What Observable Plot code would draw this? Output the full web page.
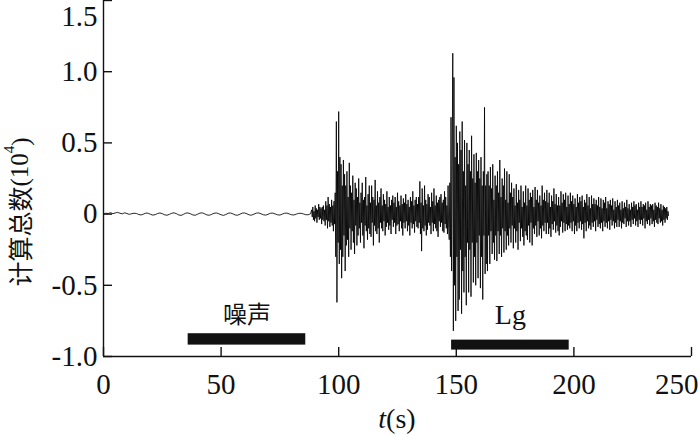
<!DOCTYPE html>
<html><head><meta charset="utf-8">
<script src="https://cdn.jsdelivr.net/npm/d3@7"></script>
<script src="https://cdn.jsdelivr.net/npm/@observablehq/plot@0.6"></script>
<style>html,body{margin:0;padding:0;background:#fff;} #chart svg{display:block;}</style>
</head><body><div id="chart"></div>
<script>
// ---- data ----
const quietStart = 0, quietStep = 1;   // seconds
const quietValues = [
  0.000,0.006,0.004,0.010,0.003,0.008,0.012,0.006,0.002,0.009,0.004,-0.002,0.003,
  0.006,0.004,-0.003,-0.006,0.000,0.007,0.006,-0.002,-0.007,-0.004,0.004,0.008,0.003,
  -0.005,-0.008,-0.002,0.006,0.009,0.003,-0.006,-0.009,-0.002,0.007,0.008,0.002,-0.006,
  -0.008,-0.001,0.007,0.009,0.002,-0.006,-0.008,-0.002,0.006,0.008,0.003,-0.005,-0.009,
  -0.003,0.006,0.008,0.002,-0.006,-0.008,-0.001,0.007,0.008,0.002,-0.006,-0.007,0.000,
  0.007,0.008,0.002,-0.005,-0.007,-0.001,0.006,0.007,0.001,-0.005,-0.007,0.000,0.006,
  0.007,0.001,-0.005,-0.006,0.000,0.005,0.006,0.001,-0.004,-0.005,0.002
];
const activeStart = 88.5, activeStep = 0.25; // seconds
const activeValues = [
  0.03,-0.02,0.05,-0.04,0.02,-0.05,0.06,-0.03,0.04,-0.06,0.03,-0.02,0.07,-0.04,0.05,-0.03,0.04,-0.07,0.05,-0.04,
  0.06,-0.05,0.03,-0.08,0.09,-0.04,0.06,-0.10,0.12,-0.05,0.07,-0.09,0.05,-0.06,0.10,-0.08,0.06,-0.12,0.09,-0.07,
  0.15,-0.30,0.65,-0.62,0.30,-0.20,0.72,-0.35,0.40,-0.25,0.35,-0.45,0.20,-0.30,0.38,-0.15,0.28,-0.40,0.20,-0.22,
  0.30,-0.18,0.12,-0.30,0.36,-0.10,0.20,-0.25,0.15,-0.12,0.27,-0.20,0.10,-0.28,0.22,-0.08,0.18,-0.22,0.12,-0.15,
  0.25,-0.10,0.08,-0.20,0.15,-0.06,0.22,-0.15,0.10,-0.24,0.12,-0.08,0.26,-0.12,0.06,-0.18,0.14,-0.10,0.20,-0.14,
  0.08,-0.16,0.20,-0.06,0.12,-0.22,0.10,-0.08,0.24,-0.12,0.06,-0.14,0.16,-0.10,0.08,-0.20,0.12,-0.06,0.18,-0.10,
  0.06,-0.12,0.14,-0.05,0.10,-0.15,0.07,-0.09,0.16,-0.06,0.05,-0.11,0.12,-0.08,0.06,-0.14,0.10,-0.04,0.13,-0.09,
  0.08,-0.06,0.12,-0.14,0.05,-0.08,0.15,-0.07,0.09,-0.12,0.06,-0.05,0.13,-0.10,0.07,-0.15,0.11,-0.06,0.08,-0.10,
  0.14,-0.05,0.07,-0.12,0.10,-0.08,0.05,-0.15,0.12,-0.06,0.09,-0.10,0.16,-0.07,0.06,-0.13,0.10,-0.05,0.12,-0.09,
  0.07,-0.10,0.12,-0.06,0.23,-0.14,0.08,-0.26,0.18,-0.10,0.06,-0.12,0.20,-0.08,0.10,-0.15,0.07,-0.11,0.14,-0.06,
  0.12,-0.08,0.05,-0.14,0.15,-0.06,0.09,-0.12,0.18,-0.07,0.06,-0.10,0.13,-0.12,0.08,-0.16,0.10,-0.05,0.12,-0.09,
  0.14,-0.06,0.08,-0.12,0.10,-0.13,0.16,-0.07,0.12,-0.10,0.06,-0.14,0.20,-0.10,-0.18,0.22,-0.30,0.68,-0.40,0.35,
  1.13,-0.82,0.96,-0.50,0.40,-0.75,0.62,-0.30,0.50,-0.68,0.35,-0.60,0.58,-0.25,0.45,-0.70,0.65,-0.40,0.30,-0.55,
  0.52,-0.30,0.20,-0.64,0.50,-0.20,0.35,-0.55,0.45,-0.25,0.30,-0.58,0.55,-0.20,0.25,-0.48,0.42,-0.30,0.22,-0.50,
  0.43,-0.20,0.30,-0.45,0.38,-0.15,0.25,-0.52,0.40,-0.30,0.20,-0.60,0.30,-0.15,0.75,-0.42,0.20,-0.35,0.28,-0.40,
  0.30,-0.15,0.20,-0.35,0.33,-0.12,0.18,-0.28,0.35,-0.20,0.10,-0.32,0.27,-0.15,0.20,-0.33,0.30,-0.12,0.15,-0.28,
  0.38,-0.15,0.12,-0.30,0.25,-0.10,0.20,-0.27,0.32,-0.12,0.10,-0.25,0.30,-0.15,0.08,-0.22,0.28,-0.10,0.15,-0.20,
  0.22,-0.08,0.12,-0.24,0.18,-0.10,0.06,-0.20,0.21,-0.12,0.08,-0.25,0.17,-0.06,0.10,-0.19,0.20,-0.10,0.05,-0.16,
  0.16,-0.22,0.08,-0.12,0.20,-0.15,0.06,-0.18,0.18,-0.08,0.10,-0.20,0.15,-0.06,0.12,-0.22,0.17,-0.10,0.05,-0.14,
  0.19,-0.08,0.10,-0.16,0.17,-0.05,0.08,-0.15,0.13,-0.10,0.06,-0.17,0.20,-0.08,0.10,-0.12,0.15,-0.06,0.09,-0.14,
  0.17,-0.06,0.08,-0.14,0.15,-0.10,0.05,-0.16,0.13,-0.07,0.09,-0.11,0.18,-0.05,0.07,-0.13,0.14,-0.08,0.06,-0.12,
  0.12,-0.15,0.06,-0.09,0.16,-0.05,0.08,-0.13,0.14,-0.06,0.10,-0.12,0.15,-0.07,0.05,-0.11,0.13,-0.08,0.07,-0.10,
  0.15,-0.06,0.09,-0.12,0.13,-0.05,0.07,-0.14,0.11,-0.08,0.05,-0.12,0.14,-0.06,0.08,-0.10,0.12,-0.05,0.09,-0.11,
  0.13,-0.07,0.05,-0.17,0.10,-0.06,0.08,-0.12,0.14,-0.05,0.06,-0.10,0.12,-0.08,0.04,-0.11,0.13,-0.06,0.07,-0.09,
  0.11,-0.05,0.07,-0.12,0.10,-0.04,0.06,-0.09,0.12,-0.07,0.05,-0.10,0.11,-0.06,0.04,-0.12,0.10,-0.05,0.08,-0.09,
  0.12,-0.06,0.04,-0.10,0.09,-0.05,0.07,-0.11,0.10,-0.04,0.06,-0.08,0.11,-0.05,0.03,-0.10,0.09,-0.06,0.05,-0.09,
  0.10,-0.04,0.06,-0.09,0.08,-0.05,0.03,-0.10,0.09,-0.06,0.04,-0.07,0.08,-0.03,0.05,-0.09,0.10,-0.05,0.04,-0.08,
  0.07,-0.05,0.03,-0.09,0.08,-0.04,0.05,-0.07,0.09,-0.03,0.06,-0.08,0.07,-0.05,0.03,-0.09,0.08,-0.04,0.05,-0.07,
  0.09,-0.04,0.05,-0.08,0.07,-0.03,0.06,-0.10,0.08,-0.05,0.03,-0.07,0.09,-0.04,0.05,-0.08,0.07,-0.03,0.06,-0.07,
  0.07,-0.05,0.03,-0.09,0.08,-0.04,0.06,-0.06,0.05,-0.07,0.08,-0.03,0.04,-0.06,0.07,-0.05,0.03,-0.08,0.06,-0.04,
  0.05,-0.06,0.04,-0.03,0.05,-0.04,0.02,-0.01
];
const xTicks = [0, 50, 100, 150, 200, 250];
const yTicks = [-1, -0.5, 0, 0.5, 1, 1.5];
const windowLabels = ["噪声", "Lg"];
const windowStart = [36, 148];
const windowEnd = [86, 198];

// ---- build tables ----
const trace = [
  ...quietValues.map((v, i) => ({t: quietStart + i * quietStep, v})),
  ...activeValues.map((v, i) => ({t: activeStart + i * activeStep, v}))
];
const windows = windowLabels.map((label, i) => ({label, start: windowStart[i], end: windowEnd[i], mid: (windowStart[i] + windowEnd[i]) / 2}));

const serif = "'Liberation Serif', 'Times New Roman', serif";
const fmt = d => d === 0 ? "0" : d.toFixed(1);
const lastX = xTicks[xTicks.length - 1];
const topY = yTicks[yTicks.length - 1];

const chart = Plot.plot({
  width: 700,
  height: 436,
  marginLeft: 103,
  marginRight: 9,
  marginTop: 0,
  marginBottom: 80,
  style: {fontFamily: serif, fontSize: "29px", color: "#111", background: "#fff"},
  x: {domain: [0, 250]},
  y: {domain: [-1, 1.5]},
  marks: [
    Plot.line(trace, {x: "t", y: "v", stroke: "#000", strokeWidth: 0.85}),
    Plot.rect([windows[0]], {x1: "start", x2: "end", y1: -0.92, y2: -0.84, fill: "#111"}),
    Plot.rect([windows[1]], {x1: "start", x2: "end", y1: -0.955, y2: -0.885, fill: "#111"}),
    Plot.text([windows[0]], {x: "mid", y: -0.71, text: "label", fontSize: 24, fontFamily: "'Noto Sans CJK SC', sans-serif", fill: "#111"}),
    Plot.text([windows[1]], {x: "mid", y: -0.71, text: "label", fontSize: 28, fontFamily: serif, fill: "#111"}),
    Plot.ruleX([0], {stroke: "#111", strokeWidth: 1.4}),
    Plot.ruleY([-1], {stroke: "#111", strokeWidth: 1.4}),
    Plot.axisY(yTicks, {anchor: "left", tickSize: -9, tickPadding: 15, strokeWidth: 1.4, fontSize: 29, tickFormat: d => d === topY ? "" : fmt(d), label: null}),
    Plot.axisY([topY], {anchor: "left", tickSize: 0, tickPadding: 6, dy: 16, fontSize: 29, tickFormat: fmt, label: null}),
    Plot.axisX(xTicks, {anchor: "bottom", tickSize: -9, tickPadding: 26, strokeWidth: 1.4, fontSize: 29, tickFormat: d => d === lastX ? "" : String(d), label: null}),
    Plot.axisX([lastX], {anchor: "bottom", tickSize: 0, tickPadding: 17, textAnchor: "end", dx: 7, fontSize: 29, tickFormat: d => String(d), label: null})
  ]
});

const svg = d3.select(chart);
// y-axis title
const yl = svg.append("text")
  .attr("transform", "translate(19,212) rotate(-90)")
  .attr("text-anchor", "middle")
  .attr("dominant-baseline", "central")
  .attr("fill", "#111")
  .style("font-size", "25px");
yl.append("tspan").style("font-family", "'Noto Sans CJK SC', sans-serif").text("计算总数");
yl.append("tspan").style("font-family", serif).text("(10");
yl.append("tspan").style("font-family", serif).style("font-size", "15px").attr("dy", "-0.7em").text("4");
yl.append("tspan").style("font-family", serif).attr("dy", "0.45em").text(")");
// x-axis title
const xl = svg.append("text")
  .attr("x", 397).attr("y", 428)
  .attr("text-anchor", "middle")
  .attr("fill", "#111")
  .style("font-family", serif)
  .style("font-size", "28px");
xl.append("tspan").style("font-style", "italic").text("t");
xl.append("tspan").text("(s)");

document.getElementById("chart").appendChild(chart);
</script>
</body></html>
